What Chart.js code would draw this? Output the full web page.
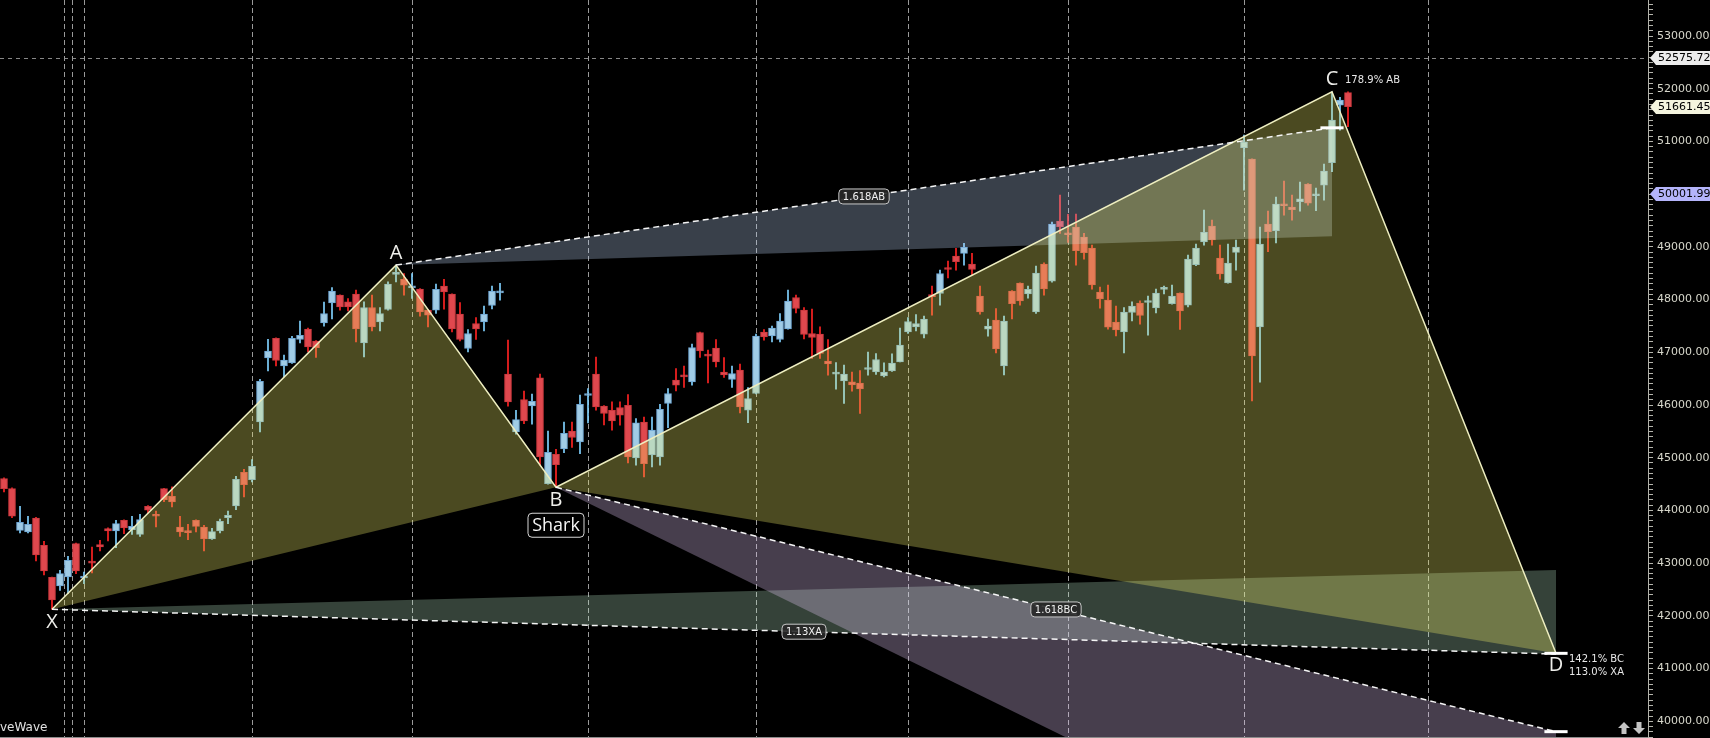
<!DOCTYPE html>
<html>
<head>
<meta charset="utf-8">
<script src="https://cdn.jsdelivr.net/npm/chart.js@4.4.0/dist/chart.umd.min.js"></script>
<style>
  html, body { margin: 0; padding: 0; background: #000; overflow: hidden; }
</style>
</head>
<body>
<canvas id="chart1" width="1710" height="738"></canvas>
<script>
// daily candles, oldest first (index 0 = first visible bar)
var opens = [44605,44414,43623,43591,43857,43338,42731,42567,42737,43370,42718,43022,43351,43655,43610,43813,43636,43547,44079,43908,
  44414,44268,43686,43610,43813,43686,43459,43610,43864,44085,44724,44585,45679,46894,47267,46742,46799,47242,47438,47211,
  47559,47938,48084,47958,48103,47179,47850,47578,47812,48477,48382,48223,48198,47800,47800,48255,48103,47724,47072,47546,
  47578,47888,48128,46585,45490,46104,45984,46515,44509,45066,45167,45503,45300,46180,46585,45978,45901,45952,45996,44997,
  45674,45054,45016,46028,46471,46559,46439,47376,46952,47078,46623,46483,46661,45901,46218,47382,47312,47243,47445,48040,
  47799,47357,47344,46831,46585,46458,46439,46414,46674,46629,46553,46648,46819,47388,47483,47344,48097,48116,48597,48824,
  48875,48673,48065,47439,47610,46743,48160,48312,48109,47768,48672,48350,49489,49255,49375,49185,48976,48141,47989,47572,
  47388,47755,47932,47945,47844,48192,47920,48122,47894,48660,49096,49394,48786,48318,48894,50881,50665,47483,49432,49305,
  49811,49754,49856,50191,49970,50172,50596,51690,51925]
var highs = [44620,44430,44079,43889,43870,43414,42735,42864,43130,43380,42832,43307,43433,43668,43813,43820,43889,43927,44090,43990,
  44420,44446,43889,43737,43820,43718,43661,43838,43990,44648,44781,44964,46489,47248,47275,46945,47305,47590,47457,47220,
  47951,48229,48090,48021,48179,47958,48084,47850,48337,48654,48495,48495,48210,47810,48293,48382,48110,47945,47433,47660,
  47875,48255,48306,47230,45901,46262,46205,46585,45503,45161,45674,45674,46186,46313,46907,45990,46060,46060,46199,45743,
  45769,45769,46015,46313,46692,46737,47154,47385,47040,47243,46901,46737,46774,46332,47344,47432,47496,47736,48179,48084,
  47850,47818,47483,47243,46806,46755,46623,46654,47002,46977,46800,46971,47458,47660,47717,47686,48255,48559,48730,48970,
  49065,48875,48255,47629,47831,47685,48170,48320,48255,48635,48698,49470,49982,49615,49622,49255,49033,48236,48274,47875,
  47850,47958,47977,48065,48198,48255,48274,48130,48843,49052,49697,49508,49033,49052,49128,51121,50670,49375,49678,49944,
  50248,49982,50229,50200,50115,50571,51943,51836,51940]
var lows = [44351,43864,43573,43573,43041,42775,42124,42484,42421,42801,42611,42813,43231,43421,43294,43560,43547,43509,43952,43686,
  44168,44066,43509,43446,43591,43231,43450,43573,43750,44015,44256,44541,45490,46647,46742,46534,46790,47179,47008,46901,
  47495,47634,47799,47787,47198,46914,47407,47407,47800,48337,48084,48021,47686,47483,47736,47818,47388,47217,47009,47243,
  47407,47825,47989,45977,45446,45648,45636,44857,44497,44440,45098,45193,45079,45661,45901,45623,45522,45617,44902,44857,
  44636,44826,44857,45572,46268,46332,46376,46901,46420,46724,46521,46332,45851,45667,46210,47230,47198,47198,47440,47749,
  47255,46882,46882,46566,46300,46028,46262,45838,46566,46578,46534,46635,46815,47357,47407,47274,47705,47894,48413,48559,
  48654,48464,47724,47306,46990,46572,47635,47894,48027,47736,48084,48331,49255,49084,48654,48767,48198,47837,47439,47312,
  46990,47597,47534,47325,47749,48109,47915,47432,47863,48641,49033,49033,48388,48310,48559,50077,46078,46433,48907,49077,
  49603,49508,49678,49792,49685,49887,50425,51216,51279]
var closes = [44415,43889,43775,43737,43155,42851,42301,42801,43054,42851,42735,43000,43307,43610,43750,43667,43699,43826,44003,43890,
  44205,44161,43591,43580,43699,43459,43598,43794,43908,44591,44490,44838,46451,47021,46844,46850,47267,47324,47103,47090,
  47736,48160,47862,47863,47445,47850,47483,47736,48293,48508,48274,48235,47768,47705,48192,48147,47445,47243,47357,47445,
  47724,48160,48147,46060,45724,45699,46072,45016,45104,44870,45465,45383,46015,46200,45965,45838,45699,45806,45016,45661,
  44889,45522,45920,46218,46376,46534,47091,47028,46927,46819,46572,46597,45965,46123,47306,47293,47458,47591,47970,47831,
  47338,47281,46977,46781,46610,46585,46382,46306,46699,46863,46623,46793,47135,47584,47546,47629,48053,48495,48571,48717,
  48989,48571,47768,47496,47065,47591,47920,47976,48192,48502,48204,49432,49381,49229,48926,48888,48280,48014,47477,47426,
  47761,47875,47698,47983,48122,48211,48065,47787,48767,48976,49274,49134,48489,48691,48995,50988,46933,49052,49286,49811,
  49780,49704,49913,49830,49995,50438,51406,51785,51661.45]

// empty slots to the right of the last bar, where the pattern projects to D
var slotCount = 206

// Shark pattern points X, A, B, C, D (bar index and price)
var pointNames = ['X', 'A', 'B', 'C', 'D']
var pointIdx = [6, 49, 69, 166, 194]
var pointPrice = [42124, 48654, 44440, 51943, 41289]

// month separators (bar index)
var separators = [7.45, 8.45, 9.95, 30.95, 50.95, 72.95, 94, 112.95, 133, 154.95, 177.95]

// price axis: labelled levels, minor tick every 100
var majorTicks = [40000, 41000, 42000, 43000, 44000, 45000, 46000, 47000, 48000, 49000, 50000, 51000, 52000, 53000]
var minorStep = 100
var priceMin = 39683
var priceMax = 53683

// price tags on the axis
var tagValues = [52575.72, 51661.45, 50001.99]
var tagColors = ['#ececec', '#f4f4de', '#b4b4fa']

var labels = []
for (var s = 0; s < slotCount; s++) labels.push(String(s))

var wicks = [], bodies = [], wickColors = [], bodyColors = [], borderColors = []
for (var i = 0; i < opens.length; i++) {
  var up = closes[i] >= opens[i]
  wicks.push([lows[i], highs[i]])
  bodies.push([opens[i], closes[i]])
  wickColors.push(up ? 'rgb(128,210,255)' : 'rgb(255,34,34)')
  bodyColors.push(up ? 'rgb(160,204,230)' : 'rgb(224,72,78)')
  borderColors.push(up ? 'rgb(110,166,212)' : 'rgb(204,56,62)')
}

function roundRect(ctx, x, y, w, h, r) {
  ctx.beginPath()
  ctx.moveTo(x + r, y)
  ctx.arcTo(x + w, y, x + w, y + h, r)
  ctx.arcTo(x + w, y + h, x, y + h, r)
  ctx.arcTo(x, y + h, x, y, r)
  ctx.arcTo(x, y, x + w, y, r)
  ctx.closePath()
}

var backdropPlugin = {
  id: 'backdrop',
  beforeDatasetsDraw: function (chart) {
    var ctx = chart.ctx, xs = chart.scales.x, ys = chart.scales.y, area = chart.chartArea
    ctx.save()
    ctx.lineWidth = 1
    ctx.strokeStyle = 'rgba(205,205,205,0.75)'
    ctx.setLineDash([5, 3])
    separators.forEach(function (s) {
      var x = Math.round(xs.getPixelForValue(s)) + 0.5
      ctx.beginPath()
      ctx.moveTo(x, area.top)
      ctx.lineTo(x, area.bottom)
      ctx.stroke()
    })
    var yl = Math.round(ys.getPixelForValue(tagValues[0])) + 0.5
    ctx.strokeStyle = 'rgba(150,150,150,0.9)'
    ctx.setLineDash([4, 4])
    ctx.beginPath()
    ctx.moveTo(area.left, yl)
    ctx.lineTo(area.right, yl)
    ctx.stroke()
    ctx.restore()
  }
}

var harmonicPlugin = {
  id: 'harmonic',
  afterDatasetsDraw: function (chart) {
    var ctx = chart.ctx, xs = chart.scales.x, ys = chart.scales.y, area = chart.chartArea
    function P(i, v) { return [xs.getPixelForValue(i), ys.getPixelForValue(v)] }
    var X = pointPrice[0], A = pointPrice[1], B = pointPrice[2], C = pointPrice[3]
    var pts = pointIdx.map(function (ix, k) { return P(ix, pointPrice[k]) })
    var cI = pointIdx[3], dI = pointIdx[4]
    var ab1618 = P(cI, B + 1.618 * (A - B)), ab113 = P(cI, B + 1.13 * (A - B))
    var xa886 = P(dI, A - 0.886 * (A - X)), xa113 = P(dI, A - 1.13 * (A - X))
    var bc1618 = P(dI, C - 1.618 * (C - B)), bc224 = P(dI, C - 2.24 * (C - B))

    function poly(list, color) {
      ctx.beginPath()
      ctx.moveTo(list[0][0], list[0][1])
      for (var n = 1; n < list.length; n++) ctx.lineTo(list[n][0], list[n][1])
      ctx.closePath()
      ctx.fillStyle = color
      ctx.fill()
    }
    function line(p, q) {
      ctx.beginPath()
      ctx.moveTo(p[0], p[1])
      ctx.lineTo(q[0], q[1])
      ctx.stroke()
    }

    ctx.save()
    ctx.beginPath()
    ctx.rect(area.left, area.top, area.width, area.height)
    ctx.clip()

    // projection bands
    poly([pts[1], ab1618, ab113], 'rgba(190,212,245,0.30)')
    poly([pts[0], xa886, xa113], 'rgba(190,238,205,0.28)')
    poly([pts[2], bc1618, bc224], 'rgba(235,205,255,0.30)')
    // pattern triangles
    poly([pts[0], pts[1], pts[2]], 'rgba(250,244,108,0.30)')
    poly([pts[2], pts[3], pts[4]], 'rgba(250,244,108,0.30)')

    // legs
    ctx.strokeStyle = 'rgb(238,238,192)'
    ctx.lineWidth = 1.5
    ctx.beginPath()
    ctx.moveTo(pts[0][0], pts[0][1])
    for (var n = 1; n < pts.length; n++) ctx.lineTo(pts[n][0], pts[n][1])
    ctx.stroke()

    // dashed projections
    ctx.strokeStyle = 'rgba(255,255,255,0.95)'
    ctx.setLineDash([6, 4])
    line(pts[1], ab1618)
    line(pts[0], xa113)
    line(pts[2], bc1618)
    ctx.setLineDash([])

    // level markers
    ctx.lineWidth = 3
    ctx.strokeStyle = '#fff'
    var half = xs.getPixelForValue(1.45) - xs.getPixelForValue(0)
    ;[ab1618, pts[4], bc1618].forEach(function (p) {
      line([p[0] - half, p[1]], [p[0] + half, p[1]])
    })

    // point letters
    ctx.fillStyle = '#eeeeea'
    ctx.font = '20px "Open Sans"'
    ctx.textAlign = 'center'
    ctx.textBaseline = 'middle'
    var offs = [13, -12, 13, -12, 12]
    pointNames.forEach(function (nm, k) { ctx.fillText(nm, pts[k][0], pts[k][1] + offs[k]) })

    // pattern name
    ctx.font = '18px "Open Sans"'
    var bx = pts[2][0], by = pts[2][1] + 38
    roundRect(ctx, bx - 28, by - 12, 56, 24, 4)
    ctx.fillStyle = '#000'
    ctx.fill()
    ctx.strokeStyle = '#d8d8d8'
    ctx.lineWidth = 1
    ctx.stroke()
    ctx.fillStyle = '#f4f4f4'
    ctx.fillText('Shark', bx, by + 1)

    // ratio tags on the projection lines
    ctx.font = '10px "DejaVu Sans"'
    ;[[pts[1], ab1618, '1.618AB'], [pts[0], xa113, '1.13XA'], [pts[2], bc1618, '1.618BC']].forEach(function (t) {
      var mx = (t[0][0] + t[1][0]) / 2, my = (t[0][1] + t[1][1]) / 2
      var w = ctx.measureText(t[2]).width + 8
      roundRect(ctx, mx - w / 2, my - 7.5, w, 15, 4)
      ctx.fillStyle = 'rgba(40,40,40,0.9)'
      ctx.fill()
      ctx.strokeStyle = '#c8c8c8'
      ctx.stroke()
      ctx.fillStyle = '#f0f0f0'
      ctx.fillText(t[2], mx, my + 0.5)
    })

    // ratio readouts
    ctx.textAlign = 'left'
    ctx.fillStyle = '#e8e8e8'
    ctx.fillText('178.9% AB', pts[3][0] + 13, pts[3][1] - 11)
    ctx.fillText('142.1% BC', pts[4][0] + 13, pts[4][1] + 6)
    ctx.fillText('113.0% XA', pts[4][0] + 13, pts[4][1] + 19)
    ctx.restore()
  },
  afterDraw: function (chart) {
    var ctx = chart.ctx, ys = chart.scales.y, area = chart.chartArea
    ctx.save()
    // axis price tags
    ctx.font = '11px "DejaVu Sans"'
    ctx.textBaseline = 'middle'
    ctx.textAlign = 'left'
    tagValues.forEach(function (v, k) {
      var y = Math.round(ys.getPixelForValue(v))
      var x0 = area.right + 2
      ctx.beginPath()
      ctx.moveTo(x0, y)
      ctx.lineTo(x0 + 6, y - 7)
      ctx.lineTo(chart.width, y - 7)
      ctx.lineTo(chart.width, y + 7)
      ctx.lineTo(x0 + 6, y + 7)
      ctx.closePath()
      ctx.fillStyle = tagColors[k]
      ctx.fill()
      ctx.fillStyle = '#000'
      ctx.fillText(v.toFixed(2), x0 + 8, y + 0.5)
    })
    // bottom border
    ctx.strokeStyle = '#8c8c8c'
    ctx.lineWidth = 1
    ctx.beginPath()
    ctx.moveTo(area.left, area.bottom - 0.5)
    ctx.lineTo(area.right, area.bottom - 0.5)
    ctx.stroke()
    // study name, cut at the left edge
    ctx.fillStyle = '#e2e2e2'
    ctx.font = '12px "DejaVu Sans"'
    ctx.fillText('veWave', 0, 728)
    // scroll arrows
    ctx.fillStyle = '#c4c4c4'
    function arrow(cx, dir) {
      ctx.beginPath()
      ctx.moveTo(cx, 728 - 6 * dir)
      ctx.lineTo(cx + 6, 728)
      ctx.lineTo(cx + 2.5, 728)
      ctx.lineTo(cx + 2.5, 728 + 6 * dir)
      ctx.lineTo(cx - 2.5, 728 + 6 * dir)
      ctx.lineTo(cx - 2.5, 728)
      ctx.lineTo(cx - 6, 728)
      ctx.closePath()
      ctx.fill()
    }
    arrow(1624, 1)
    arrow(1639, -1)
    ctx.restore()
  }
}

var chartData = {
  labels: labels,
  datasets: [
    {
      label: 'body',
      data: bodies,
      backgroundColor: bodyColors,
      borderColor: borderColors,
      borderWidth: 1,
      borderSkipped: false,
      barThickness: 7,
      minBarLength: 2,
      grouped: false,
      order: 1
    },
    {
      label: 'wick',
      data: wicks,
      backgroundColor: wickColors,
      borderWidth: 0,
      barThickness: 1,
      grouped: false,
      order: 2
    }
  ]
}

var chartOptions = {
  responsive: false,
  animation: false,
  layout: { padding: 0 },
  plugins: { legend: { display: false }, tooltip: { enabled: false } },
  scales: {
    x: { display: false, offset: true },
    y: {
      position: 'right',
      min: priceMin,
      max: priceMax,
      afterBuildTicks: function (scale) {
        var t = []
        for (var v = Math.ceil(priceMin / minorStep) * minorStep; v <= priceMax; v += minorStep) t.push({ value: v })
        scale.ticks = t
      },
      afterFit: function (scale) {
        scale.width = 62
        scale.paddingTop = 0
        scale.paddingBottom = 0
      },
      grid: { drawOnChartArea: false, tickLength: 5, tickColor: '#b4b4ac' },
      border: { color: '#b4b4ac' },
      ticks: {
        autoSkip: false,
        padding: 4,
        color: '#d8d8cc',
        font: { family: 'DejaVu Sans', size: 11 },
        callback: function (v) { return majorTicks.indexOf(v) >= 0 ? v.toFixed(2) : '' }
      }
    }
  }
}

var chart = new Chart(document.getElementById('chart1').getContext('2d'), {
  type: 'bar',
  data: chartData,
  options: chartOptions,
  plugins: [backdropPlugin, harmonicPlugin]
})
</script>
</body>
</html>
